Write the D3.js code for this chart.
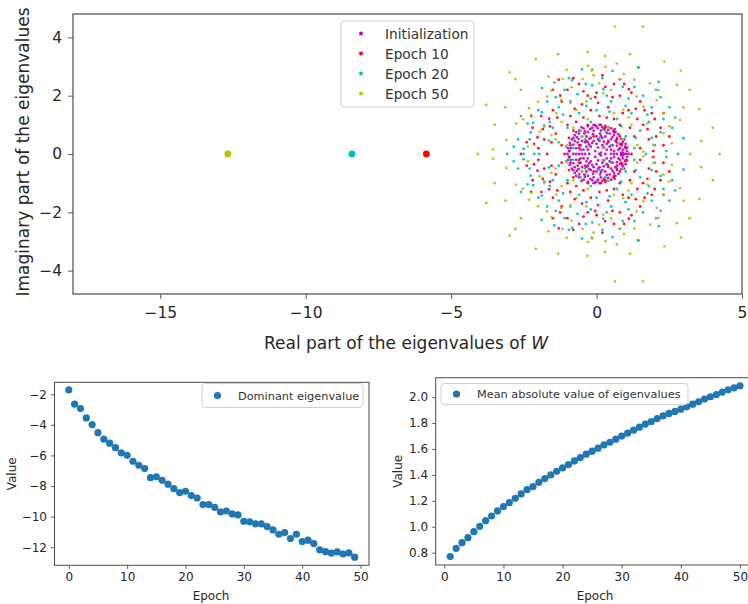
<!DOCTYPE html>
<html><head><meta charset="utf-8">
<script src="https://cdn.jsdelivr.net/npm/d3@7"></script>
<style>body{margin:0;background:#fff}svg{display:block;font-family:"DejaVu Sans",sans-serif}</style>
</head><body><svg id="c" width="748" height="604"></svg>
<script>
// ---------- data ----------
const seriesNames = ["Initialization", "Epoch 10", "Epoch 20", "Epoch 50"];
const seriesColors = ["#bf00bf", "#ff0000", "#00bfbf", "#bfbf00"];
// upper-half eigenvalues [re, im]; conjugates are mirrored below the real axis
const initPts = [[-0.95,0.1],[-0.9,0.3],[-0.85,0.5],[-0.75,0.65],[-0.6,0.8],[-0.45,0.88],[-0.3,0.95],[-0.1,1.0],[0.1,1.0],[0.3,0.96],[0.5,0.88],[0.65,0.75],[0.8,0.6],[0.9,0.42],[0.98,0.25],[1.05,0.1],[1.1,0.0],[-1.0,0.0],
[-0.7,0.2],[-0.65,0.4],[-0.5,0.6],[-0.3,0.75],[-0.1,0.8],[0.15,0.8],[0.35,0.72],[0.55,0.58],[0.7,0.4],[0.8,0.2],[0.85,0.05],
[-0.45,0.15],[-0.4,0.4],[-0.2,0.55],[0.0,0.6],[0.2,0.55],[0.4,0.45],[0.55,0.3],[0.6,0.1],
[-0.2,0.25],[0.0,0.35],[0.2,0.3],[0.35,0.15],[-0.05,0.1],[0.15,0.05],
[-0.8,0.0],[-0.6,0.0],[-0.4,0.0],[-0.25,0.0],[0.3,0.0],[0.5,0.0],[0.7,0.0],[0.95,0.0],
[-0.88,0.2],[-0.55,0.3],[-0.35,0.6],[-0.15,0.9],[0.05,0.88],[0.25,0.85],[0.45,0.7],[0.7,0.55],[0.88,0.35],[0.75,0.15],
[-0.75,0.45],[-0.3,0.4],[0.1,0.45],[0.45,0.25],[-0.6,0.7],[0.6,0.65],[-0.12,0.68],[0.3,0.6],[-0.5,0.45],
[-0.92,0.38],[-0.8,0.55],[-0.68,0.58],[-0.4,0.78],[-0.22,0.85],[0.0,0.95],[0.2,0.92],[0.4,0.82],[0.58,0.8],[0.75,0.68],[0.95,0.5],[1.0,0.35],
[-0.55,0.15],[-0.3,0.15],[0.05,0.22],[0.25,0.42],[0.5,0.5],[0.7,0.28],[0.9,0.15],[-0.1,0.45],[-0.25,0.32],[0.12,0.7],
[-0.98,0.2],[-0.93,0.1],[-0.7,0.75],[-0.52,0.92],[-0.05,0.98],[0.4,0.92],[0.62,0.85],[0.85,0.52],[1.05,0.22],[1.02,0.0],[-0.7,0.0],[-0.5,0.0],[0.1,0.0],[0.6,0.0],[0.85,0.0],[-0.62,0.52],[-0.42,0.7],[-0.25,0.52],[0.05,0.5],[0.35,0.35],[0.65,0.45],[0.8,0.35],[-0.8,0.32],[-0.6,0.2],[0.15,0.62],[-0.35,0.25],[0.5,0.15],[0.25,0.22],[-0.15,0.38],[0.9,0.05]];
const epoch10Pts = [[1.11,2.22],[-1.63,1.21],[-2.03,0.57],[-0.6,2.4],[-1.0,2.2],[0.3,2.3],[0.8,2.0],[1.5,1.8],[1.9,1.4],[2.2,0.9],[2.3,0.3],[-2.2,0.9],[-2.0,0.2],[-1.7,0.0],[-1.5,1.5],[-1.2,1.8],[-0.3,2.0],[0.4,1.6],[1.1,1.5],[1.6,1.0],[1.8,0.5],[-1.8,0.5],[-1.4,0.7],[-0.9,1.3],[-0.5,1.7],[0.1,1.3],[0.8,1.0],[1.3,0.6],[1.5,0.2],[-1.2,0.3],[-0.8,0.8],[-0.3,1.0],[0.3,0.9],[0.7,0.5],[1.0,0.2],[-0.6,0.3],[-0.1,0.6],[0.4,0.4],[-1.0,1.0],[0.0,2.1],[-1.9,1.3],[2.0,1.2],[1.2,2.1],[-0.8,2.6],[0.6,2.4],[-2.4,0.4],[2.5,0.6],[0.9,1.4],[-0.2,1.5],[-1.5,2.2],[-1.3,2.55],[0.2,2.7],[-2.6,0.0],[1.2,0.0],[-1.1,0.0],[0.6,1.2],[-0.7,1.1],[1.4,1.2],[-1.6,0.95],[0.05,1.75],
[-0.45,2.15],[0.55,1.95],[1.35,1.55],[1.75,0.85],[2.05,0.6],[-2.15,0.35],[-1.85,0.85],[-1.35,1.25],[-0.75,1.55],[-0.05,1.95],[0.35,1.25],[1.15,0.9],[0.85,0.3],[-0.35,0.45],[-0.95,0.55],[-1.55,0.4],[0.6,0.75],[1.65,1.5],[-0.45,1.25],[0.15,1.0],[1.95,0.1],[-1.25,2.0],[0.95,2.4],[-2.25,1.3],[2.3,1.4]];
const epoch20Pts = [[-0.15,2.89],[-0.84,2.53],[-0.37,2.4],[-1.88,2.26],[1.43,2.97],[2.14,2.47],[0.81,2.56],[0.23,2.22],[-1.88,1.43],[-2.37,1.04],[-2.18,1.07],[-1.61,1.1],[-2.26,0.74],[-1.64,0.46],[-2.51,0.18],[-2.51,0.0],[-2.14,0.0],[-1.97,0.0],[-3.07,0.0],[2.99,0.54],[2.6,0.9],[2.3,1.2],[1.9,1.6],[1.6,2.0],[1.1,1.9],[0.5,1.8],[-0.2,1.9],[-0.9,1.8],[-1.3,1.6],[-1.1,2.2],[0.2,2.6],[1.2,1.4],[1.5,0.8],[2.0,0.3],[2.4,0.1],[-1.0,0.9],[-0.6,1.4],[0.7,1.2],[1.0,0.6],[-1.3,0.4],[-0.4,0.5],[0.3,0.8],[-0.2,1.1],[0.5,0.3],[-0.8,0.2],[1.8,1.1],[-1.7,1.8],[-2.0,1.5],[2.5,1.6],[-0.5,2.9],[0.9,2.3],[1.3,0.2],[-1.5,0.9],[0.0,1.5],[1.44,2.96],[2.8,0.0],[1.7,0.0],[-2.7,0.5],[2.2,1.95],[-1.45,2.45],
[-0.65,2.05],[0.35,2.0],[1.3,2.3],[1.75,1.35],[2.2,0.75],[-2.3,0.5],[-1.8,0.95],[-1.15,1.35],[-0.35,1.65],[0.45,1.45],[0.85,0.95],[1.35,0.55],[-0.55,0.8],[-1.05,0.25],[0.1,0.55],[-0.15,2.35],[2.7,1.25],[-2.6,1.3],[1.0,1.65],[-0.95,2.6],[0.55,2.85],[1.9,0.55],[-1.4,1.95],[2.05,2.2],[-2.85,0.25]];
const epoch50Pts = [[0.63,4.37],[1.59,4.37],[-1.32,3.42],[-0.31,3.49],[0.29,3.36],[1.15,3.42],[-2.09,3.25],[2.33,3.17],[-1.03,2.88],[-0.29,3.02],[-0.17,2.86],[0.31,2.99],[-2.99,2.8],[-2.79,2.57],[0.94,2.74],[0.78,2.57],[-1.17,2.57],[-0.48,2.57],[2.9,2.86],[2.76,2.37],[-0.86,2.29],[0.09,2.42],[-1.55,2.17],[3.54,1.54],[2.99,1.6],[-3.79,1.68],[-3.13,1.6],[-2.76,1.05],[-2.53,1.19],[-4.08,0.0],[-3.56,0.16],[3.22,0.0],[4.23,0.0],[4.0,0.9],[2.3,1.39],[2.87,1.17],[-2.32,1.57],[-2.01,1.79],[-1.7,1.97],[-1.21,1.85],[-2.24,1.34],[2.3,0.71],[2.59,0.37],[1.95,0.31],[1.61,0.08],[-2.36,0.25],[-3.1,0.48],[-1.55,0.65],[-1.95,0.77],[1.61,1.62],[1.38,1.97],[-0.69,1.51],[0.92,1.51],[2.07,1.85],[1.84,2.42],[2.13,2.19],[0.23,2.08],[-1.38,1.39],
[-0.5,0.6],[0.4,0.9],[-1.0,0.3],[0.9,0.5],[0.2,0.2],[-0.3,1.2],[1.2,1.0],[-1.2,1.1],[0.6,1.4],[-0.8,0.9],[1.4,0.3],[-1.4,0.5],
[-0.9,1.75],[0.5,2.2],[1.3,2.55],[1.75,1.05],[-1.8,1.0],[-2.6,2.2],[3.2,2.2],[-0.35,1.8],[1.1,1.25],[-1.65,2.65],[2.5,0.95],[-0.1,2.7],[3.6,0.45],[-3.5,1.0],[0.7,3.1]];
const dominantRe = [null, -5.85, -8.41, -12.68];
const ticksRe = [-15, -10, -5, 0, 5];
const ticksIm = [-4, -2, 0, 2, 4];

const epochsA = d3.range(0, 50);
const dominantVals = [-1.72,-2.65,-2.94,-3.55,-3.98,-4.51,-4.94,-5.2,-5.49,-5.83,-5.99,-6.38,-6.64,-6.86,-7.45,-7.4,-7.62,-7.88,-8.17,-8.43,-8.34,-8.62,-8.78,-9.21,-9.21,-9.39,-9.69,-9.63,-9.82,-9.89,-10.3,-10.34,-10.47,-10.47,-10.65,-10.87,-11.15,-11.04,-11.43,-11.15,-11.63,-11.54,-11.76,-12.17,-12.28,-12.39,-12.3,-12.44,-12.37,-12.65];
const epochsB = d3.range(1, 51);
const meanAbsVals = [0.77,0.834,0.877,0.916,0.962,1.003,1.047,1.083,1.122,1.155,1.186,1.22,1.253,1.287,1.31,1.343,1.372,1.4,1.428,1.454,1.48,1.508,1.534,1.56,1.583,1.606,1.632,1.652,1.676,1.7,1.722,1.745,1.768,1.792,1.812,1.835,1.856,1.874,1.89,1.907,1.925,1.946,1.964,1.985,2.003,2.02,2.039,2.057,2.072,2.088];
const ticksEpoch = [0, 10, 20, 30, 40, 50];
const ticksDom = [-12, -10, -8, -6, -4, -2];
const ticksMean = [0.8, 1.0, 1.2, 1.4, 1.6, 1.8, 2.0];

// ---------- drawing ----------
const svg = d3.select("#c");
svg.append("rect").attr("width", 748).attr("height", 604).attr("fill", "#fff");
const TXT = "#262626", FRAME = "#4a4a4a";

function styleAxis(g, fs) {
  g.select(".domain").remove();
  g.selectAll(".tick line").attr("stroke", FRAME).attr("stroke-width", 0.9);
  g.selectAll(".tick text").attr("fill", TXT).attr("font-size", fs).attr("font-family", "DejaVu Sans");
}

// ===== Top chart =====
const xT = d3.scaleLinear([-18, 5], [73, 742]);
const yT = d3.scaleLinear([-4.8, 4.8], [294, 14]);
const topG = svg.append("g");
svg.append("clipPath").attr("id", "clipT").append("rect").attr("x", 73).attr("y", 14).attr("width", 669).attr("height", 280);
const allPts = [initPts, epoch10Pts, epoch20Pts, epoch50Pts];
const plotT = topG.append("g").attr("clip-path", "url(#clipT)");
allPts.forEach((pts, i) => {
  const full = pts.concat(pts.filter(p => p[1] !== 0).map(p => [p[0], -p[1]]));
  plotT.append("g").selectAll("circle").data(full).join("circle")
    .attr("cx", d => xT(d[0])).attr("cy", d => yT(d[1])).attr("r", 1.4)
    .attr("fill", seriesColors[i]).attr("opacity", 0.9);
});
dominantRe.forEach((v, i) => {
  if (v === null) return;
  plotT.append("circle").attr("cx", xT(v)).attr("cy", yT(0)).attr("r", 3.4).attr("fill", seriesColors[i]);
});
const gxT = topG.append("g").attr("transform", "translate(0,294)")
  .call(d3.axisBottom(xT).tickValues(ticksRe).tickSize(5).tickPadding(8));
styleAxis(gxT, 15.5);
const gyT = topG.append("g").attr("transform", "translate(73,0)")
  .call(d3.axisLeft(yT).tickValues(ticksIm).tickSize(5).tickPadding(6));
styleAxis(gyT, 15.5);
topG.append("rect").attr("x", 73).attr("y", 14).attr("width", 669).attr("height", 280)
  .attr("fill", "none").attr("stroke", FRAME).attr("stroke-width", 1.2);
const xl = topG.append("text").attr("x", 406).attr("y", 349).attr("text-anchor", "middle")
  .attr("font-size", 17).attr("fill", TXT);
xl.append("tspan").text("Real part of the eigenvalues of ");
xl.append("tspan").attr("font-style", "italic").text("W");
topG.append("text").attr("transform", "translate(29,152) rotate(-90)").attr("text-anchor", "middle")
  .attr("font-size", 17).attr("fill", TXT).text("Imaginary part of the eigenvalues");
// legend
const lgT = topG.append("g");
lgT.append("rect").attr("x", 341).attr("y", 21).attr("width", 133).attr("height", 86).attr("rx", 3)
  .attr("fill", "#fff").attr("fill-opacity", 0.85).attr("stroke", "#d0d0d0");
seriesNames.forEach((n, i) => {
  const yy = 33.5 + i * 20;
  lgT.append("circle").attr("cx", 361).attr("cy", yy).attr("r", 2).attr("fill", seriesColors[i]);
  lgT.append("text").attr("x", 385).attr("y", yy + 5).attr("font-size", 13.7).attr("fill", "#333").text(n);
});

// ===== Bottom charts =====
function bottomChart(xs, ys, xd, yd, ticksX, ticksY, fmt, label, lg) {
  const g = svg.append("g");
  const [x0, x1] = xs.range(), [y0, y1] = ys.range();
  g.append("g").selectAll("circle").data(xd).join("circle")
    .attr("cx", d => xs(d)).attr("cy", (d, i) => ys(yd[i])).attr("r", 3.6).attr("fill", "#1f77b4");
  const gx = g.append("g").attr("transform", `translate(0,${y0})`)
    .call(d3.axisBottom(xs).tickValues(ticksX).tickSize(3.5).tickPadding(4));
  styleAxis(gx, 12);
  const gy = g.append("g").attr("transform", `translate(${x0},0)`)
    .call(d3.axisLeft(ys).tickValues(ticksY).tickSize(3.5).tickPadding(4).tickFormat(fmt));
  styleAxis(gy, 12);
  g.append("rect").attr("x", x0).attr("y", y1).attr("width", x1 - x0).attr("height", y0 - y1)
    .attr("fill", "none").attr("stroke", FRAME).attr("stroke-width", 1);
  g.append("text").attr("x", lg.xlx).attr("y", 600).attr("text-anchor", "middle")
    .attr("font-size", 12).attr("fill", TXT).text("Epoch");
  g.append("text").attr("transform", `translate(${lg.ylx},${(y0 + y1) / 2}) rotate(-90)`).attr("text-anchor", "middle")
    .attr("font-size", 12).attr("fill", TXT).text("Value");
  g.append("rect").attr("x", lg.x).attr("y", lg.y).attr("width", lg.w).attr("height", lg.h).attr("rx", 3)
    .attr("fill", "#fff").attr("fill-opacity", 0.85).attr("stroke", "#d0d0d0");
  g.append("circle").attr("cx", lg.x + 15.5).attr("cy", lg.y + lg.h / 2).attr("r", 3.6).attr("fill", "#1f77b4");
  g.append("text").attr("x", lg.x + 36).attr("y", lg.y + lg.h / 2 + 4).attr("font-size", 11.3).attr("fill", "#333").text(label);
}
const xBL = d3.scaleLinear([-2.45, 51.45], [54.5, 369]);
const yBL = d3.scaleLinear([-13.18, -1.22], [565.3, 382.3]);
bottomChart(xBL, yBL, epochsA, dominantVals, ticksEpoch, ticksDom, d3.format("d"), "Dominant eigenvalue",
  {x: 202, y: 383.5, w: 161, h: 24, ylx: 16, xlx: 211});
const xBR = d3.scaleLinear([-1.45, 52.45], [435.7, 754.5]);
const yBR = d3.scaleLinear([0.705, 2.15], [565, 377.7]);
bottomChart(xBR, yBR, epochsB, meanAbsVals, ticksEpoch, ticksMean, d3.format(".1f"), "Mean absolute value of eigenvalues",
  {x: 441, y: 383.5, w: 247, h: 21, ylx: 402, xlx: 595});
</script></body></html>
